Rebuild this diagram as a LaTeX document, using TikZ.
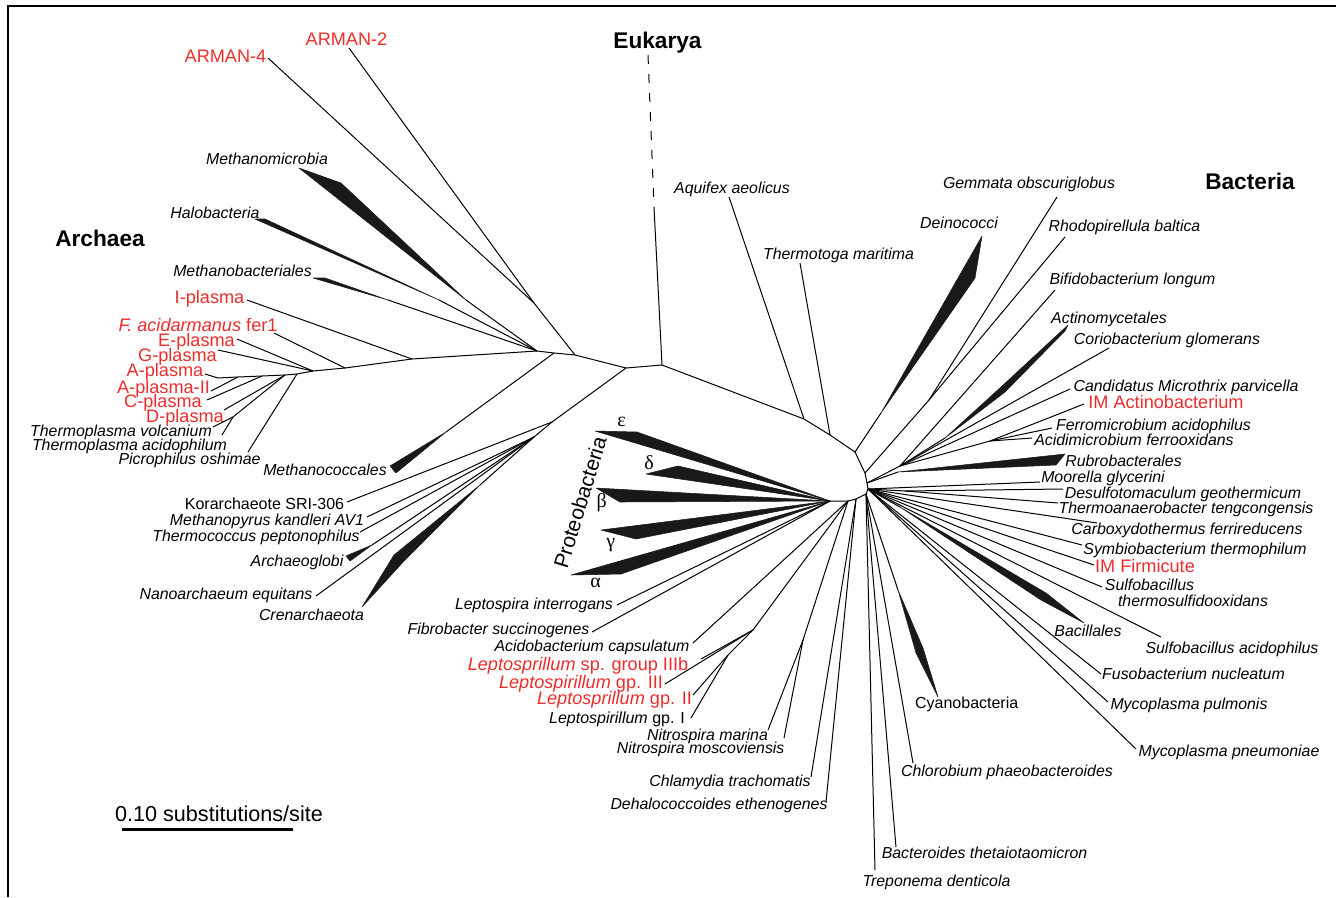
\documentclass[tikz,border=0pt]{standalone}
\usepackage{fontspec}
\setmainfont{Liberation Sans}
\newfontfamily\grkfont{Liberation Serif}
\definecolor{envred}{RGB}{236,45,45}
\tikzset{
  branch/.style={line width=0.75pt},
  clade/.style={fill=black!90,draw=black!90,line width=0.4pt,line join=round},
  taxon/.style={font=\fontsize{11.9}{13}\selectfont\itshape,inner sep=0pt,anchor=base},
  uptaxon/.style={font=\fontsize{12}{13}\selectfont,inner sep=0pt,anchor=base},
  envtaxon/.style={font=\fontsize{13.6}{15}\selectfont,text=envred,inner sep=0pt,anchor=base},
  domlabel/.style={font=\fontsize{17}{19}\selectfont\bfseries,inner sep=0pt,anchor=base},
  greek/.style={font=\fontsize{15}{17}\selectfont\grkfont,inner sep=0pt},
}
\begin{document}
\begin{tikzpicture}[x=0.75pt,y=0.75pt,yscale=-1]
\useasboundingbox (0,0) rectangle (1336,897);
\draw[line width=1.1pt] (8,897) -- (8,6) -- (1336,6);

%% domains
\node[domlabel] (lArch) at (100,246.5) {Archaea};
\node[domlabel] (lEuk) at (657.5,48) {Eukarya};
\node[domlabel] (lBact) at (1250,189.5) {Bacteria};

%% Archaea labels
\node[envtaxon] (lArm4) at (225.5,62.5) {ARMAN-4};
\node[envtaxon] (lArm2) at (346.5,45) {ARMAN-2};
\node[taxon] (lMmic) at (267,164.5) {Methanomicrobia};
\node[taxon] (lHalo) at (215,218.5) {Halobacteria};
\node[taxon] (lMbac) at (242.5,276.5) {Methanobacteriales};
\node[envtaxon] (lIpl) at (209.5,303) {I-plasma};
\node[envtaxon] (lFer) at (198,331) {\textit{F. acidarmanus} fer1};
\node[envtaxon] (lEpl) at (196.5,346) {E-plasma};
\node[envtaxon] (lGpl) at (177.5,361) {G-plasma};
\node[envtaxon] (lApl) at (165,376) {A-plasma};
\node[envtaxon] (lApl2) at (163.5,393) {A-plasma-II};
\node[envtaxon] (lCpl) at (163,407) {C-plasma};
\node[envtaxon] (lDpl) at (185,422) {D-plasma};
\node[taxon] (lTvol) at (121,436.5) {Thermoplasma volcanium};
\node[taxon] (lTaci) at (129.5,450.5) {Thermoplasma acidophilum};
\node[taxon] (lPicro) at (189.5,464) {Picrophilus oshimae};
\node[taxon] (lMcoc) at (325,475) {Methanococcales};
\node[uptaxon] (lKor) at (264.5,509.5) {Korarchaeote SRI-306};
\node[taxon] (lMpyr) at (267,525) {Methanopyrus kandleri AV1};
\node[taxon] (lTcoc) at (256,541.5) {Thermococcus peptonophilus};
\node[taxon] (lAglo) at (297,566) {Archaeoglobi};
\node[taxon] (lNano) at (226,599) {Nanoarchaeum equitans};
\node[taxon] (lCren) at (311.5,620) {Crenarchaeota};

%% Bacteria labels
\node[taxon] (lAqu) at (732,193) {Aquifex aeolicus};
\node[taxon] (lTma) at (838.5,259) {Thermotoga maritima};
\node[taxon] (lDein) at (959,228.5) {Deinococci};
\node[taxon] (lGem) at (1029,188.5) {Gemmata obscuriglobus};
\node[taxon] (lRho) at (1124.5,231) {Rhodopirellula baltica};
\node[taxon] (lBif) at (1132.5,284.5) {Bifidobacterium longum};
\node[taxon] (lActm) at (1109,323) {Actinomycetales};
\node[taxon] (lCor) at (1167,344.5) {Coriobacterium glomerans};
\node[taxon] (lMic) at (1186,391) {Candidatus Microthrix parvicella};
\node[envtaxon] (lIMA) at (1166,408.5) {IM Actinobacterium};
\node[taxon] (lFerr) at (1153.5,430) {Ferromicrobium acidophilus};
\node[taxon] (lAcid) at (1134,445.5) {Acidimicrobium ferrooxidans};
\node[taxon] (lRub) at (1123.5,466.5) {Rubrobacterales};
\node[taxon] (lMoo) at (1103,482.5) {Moorella glycerini};
\node[taxon] (lDes) at (1183,498.5) {Desulfotomaculum geothermicum};
\node[taxon] (lTan) at (1186,513.5) {Thermoanaerobacter tengcongensis};
\node[taxon] (lCar) at (1187,534.5) {Carboxydothermus ferrireducens};
\node[taxon] (lSym) at (1195,554.5) {Symbiobacterium thermophilum};
\node[envtaxon] (lIMF) at (1145,572.5) {IM Firmicute};
\node[taxon] (lSul) at (1149.5,590) {Sulfobacillus};
\node[taxon] (lSul2) at (1193,606.5) {thermosulfidooxidans};
\node[taxon] (lBac) at (1088,636.5) {Bacillales};
\node[taxon] (lSac) at (1232,653.5) {Sulfobacillus acidophilus};
\node[taxon] (lFus) at (1193.5,679.5) {Fusobacterium nucleatum};
\node[taxon] (lMpu) at (1189,709.5) {Mycoplasma pulmonis};
\node[taxon] (lMpn) at (1229,756.5) {Mycoplasma pneumoniae};
\node[uptaxon] (lCyan) at (966.7,708.5) {Cyanobacteria};
\node[taxon] (lChl) at (1007,776.5) {Chlorobium phaeobacteroides};
\node[taxon] (lBtet) at (984.5,858.5) {Bacteroides thetaiotaomicron};
\node[taxon] (lTre) at (936.5,886.5) {Treponema denticola};
\node[taxon] (lDeh) at (719,809.5) {Dehalococcoides ethenogenes};
\node[taxon] (lChla) at (730,786.5) {Chlamydia trachomatis};
\node[taxon] (lNmos) at (700.7,753.5) {Nitrospira moscoviensis};
\node[taxon] (lNmar) at (707.5,740.5) {Nitrospira marina};
\node[uptaxon] (lLgI) at (617,723.5) {\textit{Leptospirillum} gp. I};
\node[envtaxon] (lLgII) at (614.5,704) {\textit{Leptosprillum} gp. II};
\node[envtaxon] (lLgIII) at (581,688) {\textit{Leptospirillum} gp. III};
\node[envtaxon] (lLgIIIb) at (578,670.5) {\textit{Leptosprillum} sp. group IIIb};
\node[taxon] (lAcb) at (592,651.5) {Acidobacterium capsulatum};
\node[taxon] (lFib) at (498.5,634.5) {Fibrobacter succinogenes};
\node[taxon] (lLint) at (534,609.5) {Leptospira interrogans};
\node[font=\fontsize{15.7}{17}\selectfont,inner sep=0pt,rotate=73] (lProt) at (580,502.5) {Proteobacteria};
\node[greek] (gEps) at (621.5,421.5) {ε};
\node[greek] (gDel) at (649,463) {δ};
\node[greek] (gBet) at (601.7,503) {β};
\node[greek] (gGam) at (610.7,545) {γ};
\node[greek] (gAlp) at (595.7,583) {α};

%% Archaea
\coordinate (E0) at (662,365);
\coordinate (A0) at (626,368);
\coordinate (A1) at (575,355);
\coordinate (A2) at (554,353);
\coordinate (A3) at (537,351);
\coordinate (arm) at (534,303);
\coordinate (B1) at (412,359);
\coordinate (B2) at (345,368);
\coordinate (B3) at (313,371);
\coordinate (B4) at (297,374);
\coordinate (B5) at (285,375);
\coordinate (B6) at (262,376);
\coordinate (B7) at (238,377);
\coordinate (B8) at (218,378);
\coordinate (Btv) at (233,417);
\coordinate (K0) at (552,422);
\coordinate (K1) at (534,437);
\coordinate (tArm4) at (268,58);
\coordinate (tArm2) at (349,48);
\coordinate (tIpl) at (247,300);
\coordinate (tFer) at (274,333);
\coordinate (tEpl) at (237,339);
\coordinate (tGpl) at (218,350);
\coordinate (tApl) at (205,374);
\coordinate (tApl2) at (211,391);
\coordinate (tCpl) at (207,400);
\coordinate (tDpl) at (224,410);
\coordinate (tTvol) at (213,427);
\coordinate (tTaci) at (222,435);
\coordinate (tPicro) at (248,452);
\coordinate (tKor) at (347,502);
\coordinate (tMpyr) at (367,517);
\coordinate (tTcoc) at (360,532);
\coordinate (tNano) at (316,596);
\coordinate (wMmic) at (466,300);
\coordinate (wHalo) at (439,300);
\coordinate (wMbac) at (388,300);
\coordinate (wMcoc) at (446,432);
\coordinate (wAglo) at (372,545);
\coordinate (wCren) at (480,485);

\fill[clade] (299,168) -- (341,183) -- (wMmic) -- cycle;
\fill[clade] (255,219) -- (265,219) -- (wHalo) -- cycle;
\fill[clade] (313,278) -- (325,278) -- (wMbac) -- cycle;
\fill[clade] (390,466) -- (396,473) -- (wMcoc) -- cycle;
\fill[clade] (346,556) -- (350,561) -- (wAglo) -- cycle;
\fill[clade] (362,607) -- (394,555) -- (wCren) -- (404,561) -- cycle;

\draw[branch] (E0) -- (A0) -- (A1) -- (A2) -- (A3) -- (B1) -- (B2) -- (B3) -- (B4) -- (B5) -- (B6) -- (B7) -- (B8) -- (tApl);
\draw[branch] (A1) -- (arm) -- (tArm4);
\draw[branch] (arm) -- (tArm2);
\foreach \w in {wMmic,wHalo,wMbac} \draw[branch] (A3) -- (\w);
\draw[branch] (A2) -- (wMcoc);
\draw[branch] (B1) -- (tIpl);
\draw[branch] (B2) -- (tFer);
\draw[branch] (B3) -- (tEpl);
\draw[branch] (B3) -- (tGpl);
\draw[branch] (B4) -- (tPicro);
\draw[branch] (B5) -- (tDpl);
\draw[branch] (B5) -- (Btv) -- (tTvol);
\draw[branch] (Btv) -- (tTaci);
\draw[branch] (B6) -- (tCpl);
\draw[branch] (B7) -- (tApl2);
\draw[branch] (A0) -- (K0) -- (tKor);
\draw[branch] (K0) -- (K1);
\foreach \t in {tMpyr,tTcoc,wAglo,tNano,wCren} \draw[branch] (K1) -- (\t);

%% Eukarya
\coordinate (eukTop) at (648,55);
\coordinate (eukMid) at (654,207);
\draw[branch,dash pattern=on 6.75pt off 7.5pt] (eukTop) -- (eukMid);
\draw[branch] (eukMid) -- (E0);

%% Bacteria
\coordinate (Q1) at (804,419);
\coordinate (Q2) at (830,435);
\coordinate (Q3) at (855,452);
\coordinate (Q4) at (865,473);
\coordinate (Q5) at (867,483);
\coordinate (Q6) at (868,489);
\coordinate (Q7) at (866,494);
\coordinate (Q8) at (856,499);
\coordinate (Q9) at (848,501);
\coordinate (Q10) at (830,501);
\coordinate (P1) at (929,400);
\coordinate (AC1) at (900,466);
\coordinate (AC2) at (990,441);
\coordinate (F1) at (905,491);
\coordinate (N1) at (803,640);
\coordinate (N2) at (753,630);
\coordinate (N3) at (728,655);
\coordinate (tAqu) at (729,197);
\coordinate (tTma) at (800,263);
\coordinate (tGem) at (1057,197);
\coordinate (tRho) at (1065,237);
\coordinate (tBif) at (1055,290);
\coordinate (tCor) at (1109,348);
\coordinate (tMic) at (1070,389);
\coordinate (tIMA) at (1084,404);
\coordinate (tFerr) at (1052,428);
\coordinate (tAcid) at (1032,438);
\coordinate (tMoo) at (1040,482);
\coordinate (tDes) at (1063,489);
\coordinate (tTan) at (1058,503);
\coordinate (tCar) at (1097,523);
\coordinate (tSym) at (1082,545);
\coordinate (tIMF) at (1094,565);
\coordinate (tSul) at (1102,587);
\coordinate (tSac) at (1161,637);
\coordinate (tFus) at (1101,674);
\coordinate (tMpu) at (1108,702);
\coordinate (tMpn) at (1136,749);
\coordinate (tTre) at (875,870);
\coordinate (tBtet) at (896,847);
\coordinate (tChl) at (913,763);
\coordinate (tChla) at (811,777);
\coordinate (tDeh) at (826,802);
\coordinate (tNmar) at (768,730);
\coordinate (tNmos) at (784,738);
\coordinate (tIIIb) at (701,659);
\coordinate (tIII) at (665,684);
\coordinate (tII) at (693,695);
\coordinate (tI) at (691,718);
\coordinate (tAcb) at (693,643);
\coordinate (tLint) at (617,605);
\coordinate (tFib) at (592,632);
\coordinate (wDein) at (881,413);
\coordinate (wActm) at (945,438);
\coordinate (wRub) at (898,472);
\coordinate (wBac) at (900,507);
\coordinate (wCyan) at (898,590);

\fill[clade] (982,236) -- (975,278) -- (wDein) -- cycle;
\fill[clade] (1068,325) -- (1001,387) -- (wActm) -- (1005,392) -- (1065,331) -- cycle;
\fill[clade] (wRub) -- (1065,454) -- (1056,465) -- cycle;
\fill[clade] (wBac) -- (1046,593) -- (1084,623) -- (1041,600) -- cycle;
\fill[clade] (wCyan) -- (916,653) -- (938,697) -- (923,648) -- cycle;
% Proteobacteria
\fill[clade] (595,431) -- (637,432) -- (Q10) -- cycle;
\fill[clade] (646,474) -- (678,466) -- (Q10) -- cycle;
\fill[clade] (596,488) -- (Q10) -- (620,502) -- cycle;
\fill[clade] (601,530) -- (Q10) -- (636,539) -- cycle;
\fill[clade] (571,575) -- (Q10) -- (621,574) -- cycle;

\draw[branch] (E0) -- (Q1) -- (Q2) -- (Q3) -- (Q4) -- (Q5) -- (Q6) -- (Q7) -- (Q8) -- (Q9) -- (Q10);
\draw[branch] (Q1) -- (tAqu);
\draw[branch] (Q2) -- (tTma);
\draw[branch] (Q3) -- (wDein);
\draw[branch] (Q4) -- (P1) -- (tGem);
\draw[branch] (P1) -- (tRho);
\draw[branch] (Q5) -- (AC1);
\draw[branch] (Q5) -- (wRub);
\foreach \t in {tBif,wActm,tCor,tMic,AC2} \draw[branch] (AC1) -- (\t);
\foreach \t in {tIMA,tFerr,tAcid} \draw[branch] (AC2) -- (\t);
\draw[branch] (Q6) -- (F1);
\foreach \t in {tDes,tTan} \draw[branch] (F1) -- (\t);
\foreach \t in {tMoo,tCar,tSym,tIMF,tSul,wBac,tSac,tFus,tMpu,tMpn} \draw[branch] (Q6) -- (\t);
\foreach \t in {tTre,tBtet,tChl,wCyan} \draw[branch] (Q7) -- (\t);
\foreach \t in {tChla,tDeh} \draw[branch] (Q8) -- (\t);
\draw[branch] (Q9) -- (N1) -- (tNmar);
\draw[branch] (N1) -- (tNmos);
\draw[branch] (Q9) -- (N2) -- (tIIIb);
\draw[branch] (N2) -- (tIII);
\draw[branch] (N2) -- (N3) -- (tII);
\draw[branch] (N3) -- (tI);
\draw[branch] (Q9) -- (tAcb);
\draw[branch] (Q10) -- (tLint);
\draw[branch] (Q10) -- (tFib);

%% scale
\coordinate (sb1) at (122,829.5);
\coordinate (sb2) at (293,829.5);
\draw[line width=2.2pt] (sb1) -- (sb2);
\node[font=\fontsize{16.2}{18}\selectfont,inner sep=0pt,anchor=base] (lScale) at (219,821.5) {0.10 substitutions/site};
\end{tikzpicture}
\end{document}
